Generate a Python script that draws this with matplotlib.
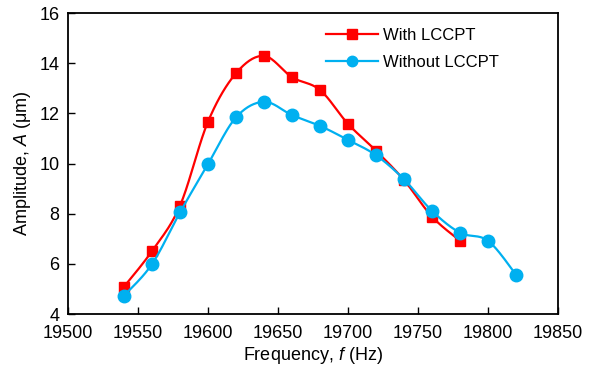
import numpy as np
import matplotlib
matplotlib.use("Agg")
import matplotlib.pyplot as plt

plt.rcParams['font.family'] = ['Liberation Sans', 'DejaVu Sans']
plt.rcParams['mathtext.fontset'] = 'custom'
plt.rcParams['mathtext.rm'] = 'Liberation Sans'
plt.rcParams['mathtext.it'] = 'Liberation Sans:italic'

# dane
freq_with = [19540, 19560, 19580, 19600, 19620, 19640, 19660, 19680, 19700, 19720, 19740, 19760, 19780]
amp_with = [5.09, 6.51, 8.32, 11.67, 13.6, 14.29, 13.44, 12.93, 11.58, 10.51, 9.34, 7.88, 6.92]

freq_without = [19540, 19560, 19580, 19600, 19620, 19640, 19660, 19680, 19700, 19720, 19740, 19760, 19780, 19800, 19820]
amp_without = [4.73, 5.99, 8.05, 9.98, 11.84, 12.46, 11.93, 11.5, 10.94, 10.33, 9.37, 8.11, 7.24, 6.92, 5.57]


def smooth(x, y, n=20):
    # wygladzanie jak w Excelu (krzywe Beziera z Catmull-Rom)
    x = np.asarray(x, float)
    y = np.asarray(y, float)
    px, py = [], []
    for i in range(len(x) - 1):
        x0, y0 = (x[i - 1], y[i - 1]) if i > 0 else (x[i], y[i])
        x3, y3 = (x[i + 2], y[i + 2]) if i + 2 < len(x) else (x[i + 1], y[i + 1])
        c1x = x[i] + (x[i + 1] - x0) / 6
        c1y = y[i] + (y[i + 1] - y0) / 6
        c2x = x[i + 1] - (x3 - x[i]) / 6
        c2y = y[i + 1] - (y3 - y[i]) / 6
        t = np.linspace(0, 1, n)
        bx = (1 - t)**3 * x[i] + 3 * (1 - t)**2 * t * c1x + 3 * (1 - t) * t**2 * c2x + t**3 * x[i + 1]
        by = (1 - t)**3 * y[i] + 3 * (1 - t)**2 * t * c1y + 3 * (1 - t) * t**2 * c2y + t**3 * y[i + 1]
        px.extend(bx)
        py.extend(by)
    return px, py


fig = plt.figure(figsize=(5.93, 3.74), dpi=100)
ax = fig.add_axes([0.1147, 0.1604, 0.8263, 0.8048])

red = '#FF0000'
blue = '#00B0F0'

sx, sy = smooth(freq_with, amp_with)
ax.plot(sx, sy, color=red, lw=1.6, zorder=2)
ax.plot(freq_with, amp_with, ls='none', marker='s', ms=7.5, color=red, zorder=3)
sx, sy = smooth(freq_without, amp_without)
ax.plot(sx, sy, color=blue, lw=1.6, zorder=4)
ax.plot(freq_without, amp_without, ls='none', marker='o', ms=9, color=blue, zorder=5)

# legenda
ax.plot([], [], color=red, lw=1.6, marker='s', ms=6.5, label='With LCCPT')
ax.plot([], [], color=blue, lw=1.6, marker='o', ms=7.5, label='Without LCCPT')
ax.legend(loc='upper left', bbox_to_anchor=(0.527, 0.951), frameon=False, fontsize=12,
          handlelength=3.1, handletextpad=0.3, labelspacing=0.73,
          borderpad=0, borderaxespad=0)

ax.set_xlim(19500, 19850)
ax.set_ylim(4, 16)
ax.set_xticks(np.arange(19500, 19851, 50))
ax.set_yticks(np.arange(4, 17, 2))
ax.tick_params(direction='in', length=5, width=1, labelsize=13, top=False, right=False)
ax.tick_params(axis='x', pad=8)
ax.tick_params(axis='y', pad=6)
for s in ax.spines.values():
    s.set_linewidth(1.3)
ax.set_xlabel('Frequency, $f$ (Hz)', fontsize=13, labelpad=2)
ax.set_ylabel('Amplitude, $A$ (μm)', fontsize=13, labelpad=5)

fig.savefig('out.png', dpi=100)
